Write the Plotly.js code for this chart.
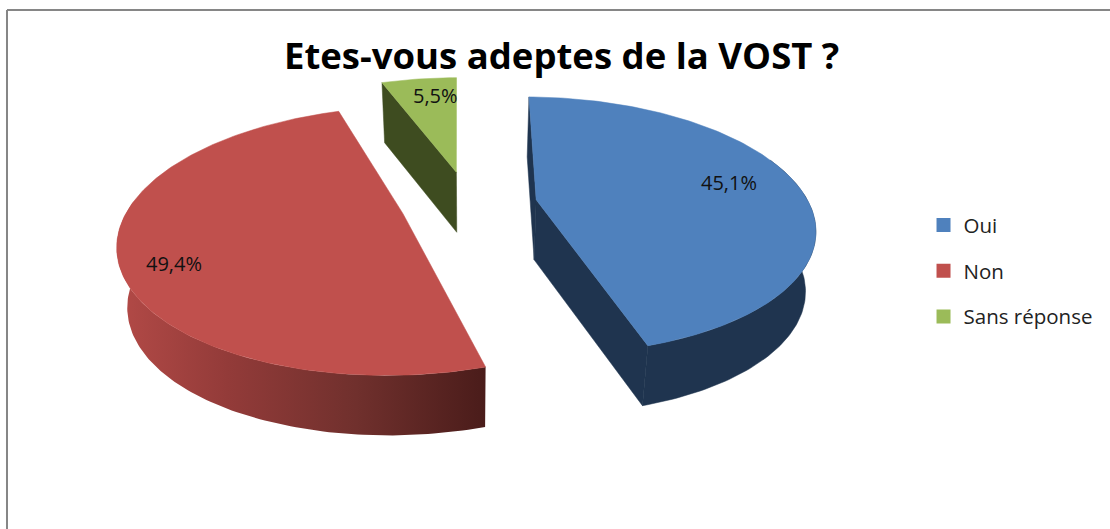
<!DOCTYPE html>
<html><head><meta charset="utf-8">
<script src="https://cdn.plot.ly/plotly-3.0.1.min.js"></script>
<style>html,body{margin:0;padding:0;background:#fff}#c{width:1110px;height:529px}</style>
</head><body><div id="c"></div>
<script>
const categories = ["Oui", "Non", "Sans réponse"];
const values = [45.1, 49.4, 5.5];
const labels = ["45,1%", "49,4%", "5,5%"];
const topColors = ["#4f81bd", "#c0504d", "#9bbb59"];
const wallColors = ["#1f344f", "#8f3b39", "#3e4c20"];

// perspective pie model, drawn in a pixel-sized data space
const CX = 469, CY = 204, A = 273, B = 125, K = 0.2, EXPLODE = 0.25, DEPTH = 60, SHRINK = 0.97, START = 1;
const rad = d => d * Math.PI / 180;
function project(u, v, low) {
  const den = 1 + K * v;
  const X = A * u / den, Y = -B * v / den;
  return low ? [CX + X * SHRINK, CY + Y + DEPTH] : [CX + X, CY + Y];
}
let acc = START;
const slices = values.map(val => {
  const a0 = acc, a1 = acc + val * 3.6; acc = a1;
  const mid = rad((a0 + a1) / 2);
  return {a0, a1, ex: EXPLODE * Math.sin(mid), ey: EXPLODE * Math.cos(mid)};
});
// the small slice sits slightly further out and is turned a little
slices[2].ex -= 0.01;
slices[2].ey += 0.02;
slices[2].a0 -= 1.5;
slices[2].a1 -= 1.5;
const pt = (s, deg, r, low) => project(s.ex + r * Math.sin(rad(deg)), s.ey + r * Math.cos(rad(deg)), low);
function arc(s, from, to, low) {
  const n = Math.max(2, Math.ceil(Math.abs(to - from)));
  const out = [];
  for (let i = 0; i <= n; i++) out.push(pt(s, from + (to - from) * i / n, 1, low));
  return out;
}
function poly(points, color, gradient) {
  const closed = points.concat([points[0]]);
  const t = {type: "scatter", mode: "lines", x: closed.map(p => p[0]), y: closed.map(p => p[1]),
    fill: "toself", fillcolor: color, line: {width: 0.5, color: color}, showlegend: false, hoverinfo: "skip"};
  if (gradient) { t.fillgradient = {type: "horizontal", colorscale: gradient}; t.line.width = 0; }
  return t;
}
const traces = [];
const redGrad = [[0, "#b34a47"], [0.3, "#933b39"], [0.65, "#70302d"], [1, "#4a1c1a"]];
// green wall (back)
const g = slices[2];
traces.push(poly([pt(g, g.a0, 1, false), pt(g, g.a0, 0, false), pt(g, g.a0, 0, true), pt(g, g.a0, 1, true)], wallColors[2]));
// red wall
const r = slices[1];
traces.push(poly(arc(r, r.a0, 275, false).concat(arc(r, 275, r.a0, true)), wallColors[1], redGrad));
// blue walls
const b = slices[0];
traces.push(poly([pt(b, b.a1, 1, false), pt(b, b.a1, 0, false), pt(b, b.a1, 0, true), pt(b, b.a1, 1, true)], wallColors[0]));
traces.push(poly([pt(b, b.a0, 1, false), pt(b, b.a0, 0, false), pt(b, b.a0, 0, true), pt(b, b.a0, 1, true)], wallColors[0]));
traces.push(poly(arc(b, 70, b.a1, false).concat(arc(b, b.a1, 70, true)), wallColors[0]));
// top faces
slices.forEach((s, i) => traces.push(poly([pt(s, s.a0, 0, false)].concat(arc(s, s.a0, s.a1, false)), topColors[i])));
// legend entries
categories.forEach((c, i) => traces.push({type: "scatter", mode: "markers", x: [null], y: [null], name: c,
  legendgroup: c, marker: {symbol: "square", size: 14, color: topColors[i]}}));

const labelRadius = [0.75, 0.83, 0.79];
const angleAdj = [-3, -8, 3];
const annotations = slices.map((s, i) => {
  const m = (s.a0 + s.a1) / 2 + angleAdj[i];
  const p = pt(s, m, labelRadius[i], false);
  return {x: p[0], y: p[1], xref: "x", yref: "y", text: labels[i], showarrow: false,
    font: {family: "Open Sans, sans-serif", size: 20, color: "#111"}};
});
annotations.push({x: 561, y: 55, xref: "x", yref: "y", text: "<b>Etes-vous adeptes de la VOST ?</b>", showarrow: false,
  font: {family: "Open Sans, sans-serif", size: 36.5, color: "#000"}});

const frame = {color: "#868686", width: 2};
Plotly.newPlot("c", traces, {
  width: 1110, height: 529, margin: {l: 0, r: 0, t: 0, b: 0},
  paper_bgcolor: "#fff", plot_bgcolor: "#fff",
  xaxis: {range: [0, 1110], visible: false, fixedrange: true},
  yaxis: {range: [529, 0], visible: false, fixedrange: true},
  showlegend: true,
  legend: {x: 0.832, y: 0.612, xanchor: "left", yanchor: "top", tracegroupgap: 16, itemwidth: 30,
    font: {family: "Open Sans, sans-serif", size: 20.5, color: "#222"}, bgcolor: "rgba(0,0,0,0)"},
  annotations,
  shapes: [
    {type: "line", xref: "paper", yref: "paper", x0: 0.0063, x1: 1, y0: 0.981, y1: 0.981, line: frame},
    {type: "line", xref: "paper", yref: "paper", x0: 0.0063, x1: 0.0063, y0: 0, y1: 0.981, line: frame}
  ]
}, {displayModeBar: false, staticPlot: true});
</script></body></html>
